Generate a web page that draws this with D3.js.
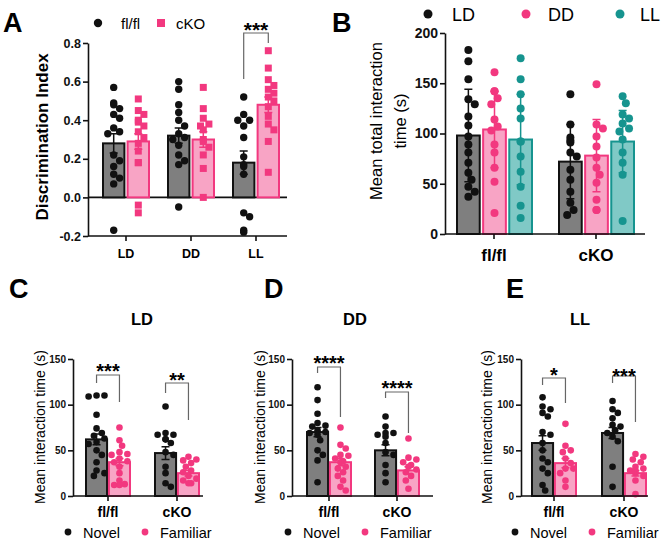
<!DOCTYPE html>
<html>
<head>
<meta charset="utf-8">
<script src="https://cdn.jsdelivr.net/npm/d3@7"></script>
<style>
  body { margin: 0; background: #fff; }
  svg { display: block; font-family: "Liberation Sans", Arial, sans-serif; }
</style>
</head>
<body>
<script>
// ---------------- data ----------------
const conditions = ["LD", "DD", "LL"];
const genotypes = ["fl/fl", "cKO"];
const objects = ["Novel", "Familiar"];

// A: discrimination index, one array per condition (LD, DD, LL)
const diFlfl = [
  [0.57, 0.49, 0.48, 0.46, 0.43, 0.41, 0.36, 0.34, 0.33, 0.22, 0.19, 0.16, 0.12, 0.10, 0.07, -0.17],
  [0.60, 0.56, 0.48, 0.44, 0.40, 0.37, 0.33, 0.31, 0.30, 0.27, 0.22, 0.19, 0.17, -0.05],
  [0.52, 0.43, 0.40, 0.40, 0.37, 0.31, 0.21, 0.17, 0.16, 0.12, -0.08, -0.10, -0.17, -0.18]
];
const diCko = [
  [0.51, 0.45, 0.43, 0.40, 0.39, 0.37, 0.34, 0.31, 0.28, 0.24, 0.18, 0.18, -0.04, -0.08],
  [0.57, 0.46, 0.41, 0.38, 0.37, 0.35, 0.30, 0.29, 0.26, 0.22, 0.15, 0.0],
  [0.76, 0.67, 0.61, 0.58, 0.56, 0.54, 0.52, 0.50, 0.47, 0.42, 0.38, 0.35, 0.29, 0.13]
];
const diMeanFlfl = [0.28, 0.32, 0.18];
const diMeanCko = [0.29, 0.30, 0.48];
const diSemFlfl = [0.05, 0.04, 0.06];
const diSemCko = [0.04, 0.04, 0.04];

// B: mean total interaction time, one array per genotype (fl/fl, cKO)
const totLD = [
  [183, 172, 154, 134, 129, 117, 108, 97, 89, 81, 71, 61, 54, 47, 42, 37],
  [139, 109, 96, 93, 91, 81, 77, 64, 54, 42, 31, 24, 19]
];
const totDD = [
  [161, 142, 142, 135, 129, 114, 107, 103, 89, 81, 66, 52, 21],
  [149, 109, 105, 97, 87, 76, 66, 59, 51, 34, 24, 24]
];
const totLL = [
  [175, 154, 139, 125, 115, 92, 92, 77, 62, 47, 28, 16],
  [137, 130, 119, 115, 110, 105, 102, 94, 81, 71, 59, 13]
];
const totMean = { LD: [98, 72], DD: [104, 78], LL: [94, 92] };
const totSd = { LD: [46, 37], DD: [38, 36], LL: [45, 31] };

// C-E: novel / familiar interaction time, [fl/fl, cKO]
const ldNovel = [
  [110, 110, 109, 89, 74, 69, 66, 63, 59, 57, 50, 45, 37, 28, 25, 22],
  [98, 69, 67, 67, 62, 62, 58, 48, 45, 32, 25, 14, 10]
];
const ldFamiliar = [
  [75, 61, 55, 48, 46, 45, 41, 38, 37, 32, 25, 17, 13, 12, 12],
  [43, 40, 39, 36, 32, 28, 26, 22, 19, 17, 14, 14]
];
const ddNovel = [
  [119, 105, 90, 80, 77, 76, 72, 70, 69, 67, 61, 50, 45, 39, 15],
  [87, 76, 69, 69, 67, 65, 58, 48, 45, 34, 25, 15]
];
const ddFamiliar = [
  [75, 56, 52, 45, 44, 41, 38, 37, 32, 30, 26, 22, 17, 10, 6],
  [63, 42, 40, 37, 34, 32, 29, 26, 22, 17, 8]
];
const llNovel = [
  [108, 98, 95, 91, 87, 70, 67, 58, 50, 41, 37, 30, 25, 12, 6],
  [104, 95, 91, 85, 78, 76, 72, 69, 65, 60, 32, 10]
];
const llFamiliar = [
  [79, 55, 50, 48, 41, 36, 30, 30, 25, 17, 10],
  [46, 43, 40, 37, 32, 30, 28, 28, 25, 22, 17, 2]
];
// means and SEM as [novel, familiar] per genotype
const ldMean = [[62, 37], [47, 25]], ldSem = [[6, 4], [7, 3]];
const ddMean = [[70, 37], [50, 28]], ddSem = [[5, 4], [6, 4]];
const llMean = [[58, 36], [69, 25]], llSem = [[8, 5], [6, 3]];
const ldStars = ["***", "**"];
const ddStars = ["****", "****"];
const llStars = ["*", "***"];

// ---------------- styles ----------------
const black = "#111111", pink = "#f2387f", teal = "#16948f";
const barFill = { black: "#7f7f7f", pink: "#f8a4c5", teal: "#80c9c6" };
const font = "'Liberation Sans', Arial, sans-serif";

const svg = d3.select("body").append("svg")
  .attr("width", 669).attr("height", 540)
  .attr("viewBox", "0 0 669 540");

// simple swarm so dots of a column do not sit on top of each other
function swarm(ys, r, maxOff) {
  const placed = [];
  return ys.map(py => {
    let off = 0;
    for (let k = 0; k < 20; k++) {
      const c = k === 0 ? 0 : (k % 2 ? 1 : -1) * Math.ceil(k / 2) * r * 0.8;
      if (Math.abs(c) > maxOff) break;
      const hit = placed.some(p => Math.hypot(p[0] - c, p[1] - py) < 2 * r * 0.92);
      if (!hit) { off = c; break; }
    }
    placed.push([off, py]);
    return off;
  });
}

// one bar with its dots and error bar
function column(cx, bw, y, mean, err, values, color, shape, r) {
  svg.append("rect")
    .attr("x", cx - bw / 2).attr("y", y(mean))
    .attr("width", bw).attr("height", y(0) - y(mean))
    .attr("fill", barFill[color === black ? "black" : color === pink ? "pink" : "teal"])
    .attr("stroke", color).attr("stroke-width", 2);

  const ys = values.map(v => y(v));
  const offs = swarm(ys, r, bw / 2 - r + 1);
  const g = svg.append("g").attr("fill", color);
  ys.forEach((py, i) => {
    if (shape === "square") {
      g.append("rect").attr("x", cx + offs[i] - r).attr("y", py - r)
        .attr("width", 2 * r).attr("height", 2 * r);
    } else {
      g.append("circle").attr("cx", cx + offs[i]).attr("cy", py).attr("r", r);
    }
  });

  const cap = 4;
  svg.append("path")
    .attr("d", `M${cx},${y(mean - err)}V${y(mean + err)}M${cx - cap},${y(mean + err)}H${cx + cap}M${cx - cap},${y(mean - err)}H${cx + cap}`)
    .attr("stroke", color).attr("stroke-width", 1.5).attr("fill", "none");
}

function yAxis(x, y, ticks, fmt, size) {
  const ax = svg.append("g").attr("transform", `translate(${x},0)`)
    .call(d3.axisLeft(y).tickValues(ticks).tickFormat(fmt).tickSize(5).tickSizeOuter(0).tickPadding(2));
  ax.select(".domain").attr("stroke", black).attr("stroke-width", 1.6);
  ax.selectAll(".tick line").attr("stroke", black).attr("stroke-width", 1.6);
  ax.selectAll(".tick text").attr("font-family", font).attr("font-weight", "bold")
    .attr("font-size", size).attr("fill", black);
}

function xAxis(x0, x1, yPos, xs, labels, size, dy) {
  svg.append("line").attr("x1", x0).attr("x2", x1).attr("y1", yPos).attr("y2", yPos)
    .attr("stroke", black).attr("stroke-width", 1.6);
  labels.forEach((lab, i) => {
    svg.append("line").attr("x1", xs(lab)).attr("x2", xs(lab))
      .attr("y1", yPos).attr("y2", yPos + 5).attr("stroke", black).attr("stroke-width", 1.6);
    svg.append("text").attr("x", xs(lab)).attr("y", yPos + dy)
      .attr("text-anchor", "middle").attr("font-weight", "bold").attr("font-size", size)
      .text(lab);
  });
}

function letter(t, x, y) {
  svg.append("text").attr("x", x).attr("y", y).attr("font-weight", "bold")
    .attr("font-size", 27).text(t);
}

function bracket(x1, x2, yTop, yL, yR, stars, starY, fs) {
  svg.append("path").attr("d", `M${x1},${yL}V${yTop}H${x2}V${yR}`)
    .attr("fill", "none").attr("stroke", "#666").attr("stroke-width", 1.2);
  svg.append("text").attr("x", (x1 + x2) / 2).attr("y", starY + 0.58 * fs)
    .attr("text-anchor", "middle").attr("font-weight", "bold").attr("font-size", fs)
    .text(stars);
}

function yTitle(lines, x, y, size, weight, gap) {
  lines.forEach((l, i) => {
    svg.append("text")
      .attr("transform", `translate(${x + i * gap},${y}) rotate(-90)`)
      .attr("text-anchor", "middle").attr("font-size", size).attr("font-weight", weight)
      .text(l);
  });
}

// ---------------- panel A ----------------
{
  const y = d3.scaleLinear().domain([-0.2, 0.8]).range([236, 43]);
  const xg = d3.scalePoint().domain(conditions).range([126, 256]);
  const xs = d3.scaleBand().domain(genotypes).range([-23, 23]).paddingInner(0.13);
  const bw = xs.bandwidth();

  svg.append("line").attr("x1", 88).attr("x2", 287).attr("y1", y(0)).attr("y2", y(0))
    .attr("stroke", black).attr("stroke-width", 1.6);

  conditions.forEach((c, i) => {
    column(xg(c) + xs("fl/fl") + bw / 2, bw, y, diMeanFlfl[i], diSemFlfl[i], diFlfl[i], black, "circle", 3.7);
    column(xg(c) + xs("cKO") + bw / 2, bw, y, diMeanCko[i], diSemCko[i], diCko[i], pink, "square", 3.5);
  });

  yAxis(88, y, [-0.2, 0, 0.2, 0.4, 0.6, 0.8], d => d.toFixed(1), 12.5);
  xAxis(88, 287, y(-0.2), xg, conditions, 12.5, 22);
  yTitle(["Discrimination Index"], 48, 137, 17, "bold", 0);

  const xl = xg("LL");
  bracket(xl + xs("fl/fl") + bw / 2, xl + xs("cKO") + bw / 2, 33, 79, 43, "***", 25, 21);

  // legend
  svg.append("circle").attr("cx", 98).attr("cy", 23).attr("r", 4.2).attr("fill", black);
  svg.append("text").attr("x", 121).attr("y", 28.5).attr("font-size", 15).text("fl/fl");
  svg.append("rect").attr("x", 157).attr("y", 19).attr("width", 8).attr("height", 8).attr("fill", pink);
  svg.append("text").attr("x", 176).attr("y", 28.5).attr("font-size", 15).text("cKO");

  letter("A", 3, 32);
}

// ---------------- panel B ----------------
{
  const y = d3.scaleLinear().domain([0, 200]).range([234, 33]);
  const xg = d3.scalePoint().domain(genotypes).range([494, 596]);
  const xs = d3.scaleBand().domain(conditions).range([-37, 38]).paddingInner(0.13);
  const bw = xs.bandwidth();
  const byCond = { LD: totLD, DD: totDD, LL: totLL };
  const colors = { LD: black, DD: pink, LL: teal };

  genotypes.forEach((gname, gi) => {
    conditions.forEach(c => {
      column(xg(gname) + xs(c) + bw / 2, bw, y, totMean[c][gi], totSd[c][gi], byCond[c][gi], colors[c], "circle", 4);
    });
  });

  yAxis(445, y, [0, 50, 100, 150, 200], d3.format("d"), 14);
  xAxis(445, 645, y(0), xg, genotypes, 17, 27);
  yTitle(["Mean total interaction", "time (s)"], 382, 121, 16.5, "normal", 24);

  const leg = [["LD", black, 428, 452], ["DD", pink, 526, 548], ["LL", teal, 620, 640]];
  leg.forEach(([t, col, cx, tx]) => {
    svg.append("circle").attr("cx", cx).attr("cy", 14).attr("r", 4.5).attr("fill", col);
    svg.append("text").attr("x", tx).attr("y", 21).attr("font-size", 18).text(t);
  });

  letter("B", 332, 32);
}

// ---------------- panels C, D, E ----------------
function pairPanel(p) {
  const y = d3.scaleLinear().domain([0, 150]).range([496, 359]);
  const xg = d3.scalePoint().domain(genotypes).range(p.centers);
  const xs = d3.scaleBand().domain(objects).range([-22, 22]).paddingInner(0.08);
  const bw = xs.bandwidth();

  genotypes.forEach((gname, gi) => {
    column(xg(gname) + xs("Novel") + bw / 2, bw, y, p.mean[gi][0], p.sem[gi][0], p.novel[gi], black, "circle", 3.3);
    column(xg(gname) + xs("Familiar") + bw / 2, bw, y, p.mean[gi][1], p.sem[gi][1], p.familiar[gi], pink, "circle", 3.3);
    const b = p.brackets[gi];
    bracket(xg(gname) + xs("Novel") + bw / 2, xg(gname) + xs("Familiar") + bw / 2,
      b[0], b[1], b[2], p.stars[gi], b[3], 20);
  });

  yAxis(p.axisX, y, [0, 50, 100, 150], d3.format("d"), 10);
  xAxis(p.axisX, p.axisEnd, y(0), xg, genotypes, 14, 21);
  yTitle(["Mean interaction time (s)"], p.labelX, 427, 14, "normal", 0);

  svg.append("text").attr("x", p.titleX).attr("y", 325).attr("text-anchor", "middle")
    .attr("font-weight", "bold").attr("font-size", 16.5).text(p.title);

  const lx = p.legendX;
  svg.append("circle").attr("cx", lx).attr("cy", 532).attr("r", 3.4).attr("fill", black);
  svg.append("text").attr("x", lx + 15).attr("y", 538).attr("font-size", 14.5).text("Novel");
  svg.append("circle").attr("cx", lx + 77).attr("cy", 532).attr("r", 3.4).attr("fill", pink);
  svg.append("text").attr("x", lx + 92).attr("y", 538).attr("font-size", 14.5).text("Familiar");

  letter(p.letter, p.letterX, 298);
}

pairPanel({
  letter: "C", letterX: 9, title: "LD", titleX: 142, labelX: 45,
  axisX: 73, axisEnd: 203, centers: [108, 177], legendX: 68,
  novel: ldNovel, familiar: ldFamiliar, mean: ldMean, sem: ldSem, stars: ldStars,
  brackets: [[375, 383, 402, 366], [383, 393, 420, 375]]
});
pairPanel({
  letter: "D", letterX: 264, title: "DD", titleX: 355, labelX: 265,
  axisX: 292, axisEnd: 433, centers: [329, 397], legendX: 288,
  novel: ddNovel, familiar: ddFamiliar, mean: ddMean, sem: ddSem, stars: ddStars,
  brackets: [[367, 373, 417, 358], [392, 398, 433, 383]]
});
pairPanel({
  letter: "E", letterX: 506, title: "LL", titleX: 580, labelX: 492,
  axisX: 521, axisEnd: 648, centers: [554, 624], legendX: 515,
  novel: llNovel, familiar: llFamiliar, mean: llMean, sem: llSem, stars: llStars,
  brackets: [[378, 385, 403, 370], [376, 383, 422, 371]]
});
</script>
</body>
</html>
